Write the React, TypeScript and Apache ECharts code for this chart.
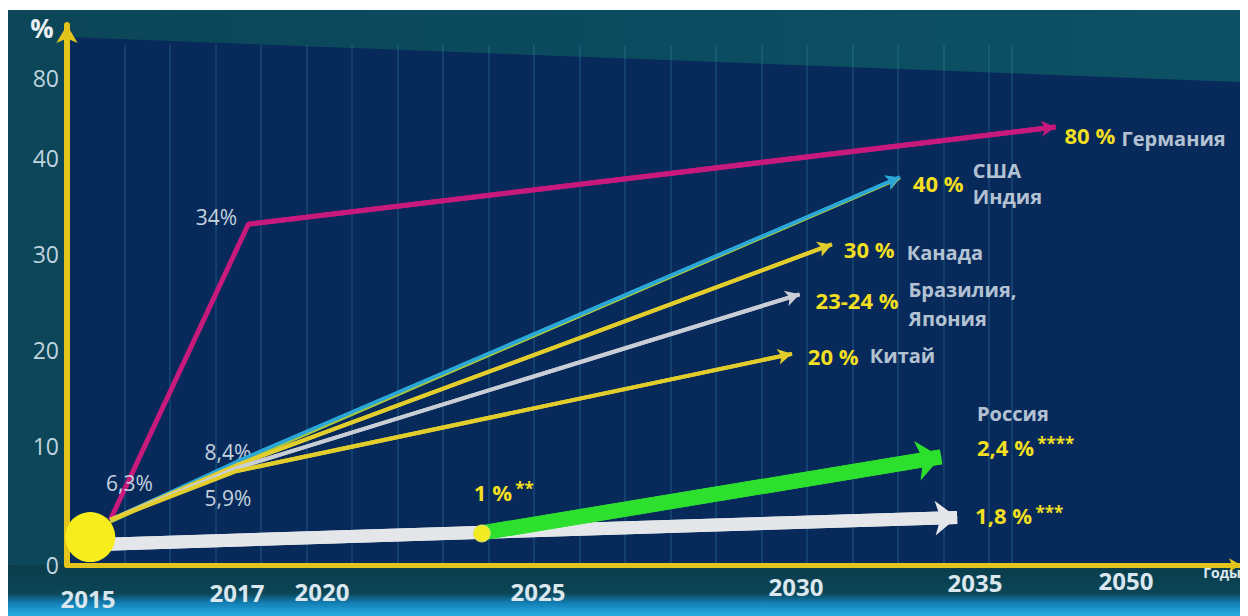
import React, { useEffect, useRef } from "react";
import * as echarts from "echarts";

// ---- axis scales (the infographic uses uneven spacing between ticks) ----
const xTickYears = [2015, 2017, 2020, 2025, 2030, 2035, 2050];
const xTickSpacing = [1.49, 0.85, 2.16, 2.58, 1.79, 1.51];
const yTickValues = [0, 10, 20, 30, 40, 80];
const yTickSpacing = [1.19, 0.96, 0.96, 0.96, 0.8];

// ---- series (years, share %) ----
const germanyYears = [2015.3, 2017.4, 2043.0];
const germanyShare = [3.8, 33.1, 55.5];
const usaYears = [2015.3, 2017, 2032.9];
const usaShare = [3.8, 8.7, 38.0];
const indiaYears = [2015.3, 2017, 2032.9];
const indiaShare = [3.6, 8.5, 37.9];
const canadaYears = [2015.3, 2017, 2031.0];
const canadaShare = [3.8, 8.4, 31.0];
const brazilJapanYears = [2015.3, 2017, 2030.1];
const brazilJapanShare = [3.8, 8.15, 25.8];
const chinaYears = [2015.3, 2017, 2029.92];
const chinaShare = [3.8, 7.9, 19.6];
const russiaBaseYears = [2015.03, 2034.5];
const russiaBaseShare = [1.7, 4.0];
const russiaTargetYears = [2023.7, 2034.05];
const russiaTargetShare = [2.7, 9.08];
const startPoint = [2015.03, 2.35];
const russiaMilestone = [2023.7, 2.65];

// ---- texts ----
const startLabels = ["6,3%", "34%", "8,4%", "5,9%"];
const endValues = ["80 %", "40 %", "30 %", "23-24 %", "20 %"];
const endNames = ["Германия", "США\nИндия", "Канада", "Бразилия,\nЯпония", "Китай"];
const russiaTexts = ["Россия", "2,4 %", "****", "1,8 %", "***", "1 %", "**"];

const FONT = "'Open Sans', 'DejaVu Sans', sans-serif";

function cumulative(gaps: number[]) {
  const c = [0];
  gaps.forEach((g) => c.push(c[c.length - 1] + g));
  return c;
}
const xCum = cumulative(xTickSpacing);
const yCum = cumulative(yTickSpacing);

function warp(v: number, ticks: number[], cum: number[]) {
  let i = 0;
  while (i < ticks.length - 2 && v > ticks[i + 1]) i++;
  const t = (v - ticks[i]) / (ticks[i + 1] - ticks[i]);
  return cum[i] + t * (cum[i + 1] - cum[i]);
}
const wx = (y: number) => warp(y, xTickYears, xCum);
const wy = (v: number) => warp(v, yTickValues, yCum);
const pts = (ys: number[], vs: number[]) => ys.map((y, i) => [wx(y), wy(vs[i])]);

const thinLabel = {
  show: true,
  position: "inside",
  color: "#c3d2df",
  fontSize: 21,
  fontFamily: FONT,
  align: "center",
  verticalAlign: "middle",
};
const valueRich = {
  v: { color: "#f2df1f", fontSize: 22, fontWeight: "bold", fontFamily: FONT },
  s: { color: "#f2df1f", fontSize: 17, fontWeight: "bold", fontFamily: FONT, padding: [0, 0, 6, 0] },
};

function valueLabel(text: string, offset: number[]) {
  return {
    show: true,
    position: "inside",
    align: "left",
    verticalAlign: "middle",
    offset,
    formatter: text,
    rich: valueRich,
  };
}

function trendSeries(
  name: string,
  p: number[][],
  color: string,
  width: number,
  z: number,
  labels: Record<number, any>,
  arrowSize: number[]
) {
  const n = p.length;
  return {
    type: "line",
    name,
    z,
    silent: true,
    showSymbol: true,
    symbol: "circle",
    symbolSize: 1,
    itemStyle: { color },
    lineStyle: { color, width },
    label: { show: false },
    data: p.map((v, i) => (labels[i] ? { value: v, label: labels[i] } : { value: v })),
    markLine: {
      silent: true,
      symbol: ["none", "arrow"],
      symbolSize: arrowSize,
      label: { show: false },
      lineStyle: { color, width, type: "solid", opacity: 1 },
      emphasis: { disabled: true },
      data: [[{ coord: p[n - 2] }, { coord: p[n - 1] }]],
    },
  };
}

export default function App() {
  const ref = useRef<HTMLDivElement>(null);
  useEffect(() => {
    if (!ref.current) return;
    const chart = echarts.init(ref.current, undefined, { renderer: "svg" });

    const germany = pts(germanyYears, germanyShare);
    const usa = pts(usaYears, usaShare);
    const india = pts(indiaYears, indiaShare);
    const canada = pts(canadaYears, canadaShare);
    const brazil = pts(brazilJapanYears, brazilJapanShare);
    const china = pts(chinaYears, chinaShare);
    const rBase = pts(russiaBaseYears, russiaBaseShare);
    const rTarget = pts(russiaTargetYears, russiaTargetShare);

    const xDrop = [18, 12, 11, 11, 6, 2, 0];
    const xRich: Record<string, any> = {};
    xDrop.forEach((d, i) => {
      xRich["t" + i] = {
        fontSize: 24,
        fontWeight: "bold",
        color: "#dbe7ef",
        fontFamily: FONT,
        padding: [d, 0, 0, 0],
      };
    });

    const ends = [germany, usa, canada, brazil, china];
    const nameOffsets = [
      [66, 11],
      [73, 6],
      [75, 8],
      [109, 9.5],
      [78, 2],
    ];
    const nameLines = [20, 26, 20, 29, 20];

    const option: any = {
      animation: false,
      backgroundColor: new echarts.graphic.LinearGradient(0, 0, 1, 0, [
        { offset: 0, color: "#0c4658" },
        { offset: 0.5, color: "#0b4b5f" },
        { offset: 1, color: "#0d5165" },
      ]),
      graphic: {
        elements: [
          {
            type: "polygon",
            z: -100,
            silent: true,
            shape: { points: [[60, 27], [1234, 72], [1234, 555], [60, 555]] },
            style: { fill: "#072a5b" },
          },
          {
            type: "rect",
            z: -100,
            silent: true,
            shape: { x: 0, y: 555, width: 1241, height: 51 },
            style: {
              fill: new echarts.graphic.LinearGradient(0, 0, 0, 1, [
                { offset: 0, color: "#0a3d4c" },
                { offset: 0.55, color: "#0b4556" },
                { offset: 0.75, color: "#1380b6" },
                { offset: 1, color: "#27aee3" },
              ]),
            },
          },
          {
            type: "text",
            z: 10,
            x: 35,
            y: 18,
            style: {
              text: "%",
              fill: "#e8f0f6",
              font: `bold 26px ${FONT}`,
              align: "center",
              verticalAlign: "middle",
            },
          },
          {
            type: "text",
            z: 10,
            x: 1215,
            y: 562,
            style: {
              text: "Годы",
              fill: "#dde8ef",
              font: `bold 14px ${FONT}`,
              align: "center",
              verticalAlign: "middle",
            },
          },
        ],
      },
      grid: [
        { left: 60, right: 7, top: 15, bottom: 51 },
        { left: 72, width: 933, top: 35, bottom: 51 },
      ],
      xAxis: [
        {
          type: "value",
          gridIndex: 0,
          min: -0.21,
          max: 11.53,
          axisLine: {
            show: true,
            onZero: false,
            lineStyle: { color: "#e3c41c", width: 5 },
            symbol: ["none", "arrow"],
            symbolSize: [10, 12],
          },
          axisTick: { show: false },
          splitLine: { show: false },
          axisLabel: {
            customValues: xCum,
            margin: 3,
            formatter: (val: number) => {
              const i = xCum.findIndex((c) => Math.abs(c - val) < 1e-6);
              return i < 0 ? "" : `{t${i}|${xTickYears[i]}}`;
            },
            rich: xRich,
          },
        },
        {
          type: "value",
          gridIndex: 1,
          min: 0,
          max: 20.5,
          interval: 1,
          axisLine: { show: false },
          axisTick: { show: false },
          axisLabel: { show: false },
          splitLine: {
            show: true,
            showMinLine: false,
            lineStyle: { color: "rgba(60,150,180,0.22)", width: 2 },
          },
        },
      ],
      yAxis: [
        {
          type: "value",
          gridIndex: 0,
          min: 0,
          max: 5.4,
          axisLine: {
            show: true,
            onZero: false,
            lineStyle: { color: "#e3c41c", width: 6 },
            symbol: ["none", "arrow"],
            symbolSize: [16, 18],
          },
          axisTick: { show: false },
          splitLine: { show: false },
          axisLabel: {
            customValues: yCum,
            margin: 8,
            color: "#c0d3de",
            fontSize: 23,
            fontFamily: FONT,
            formatter: (val: number) => {
              const i = yCum.findIndex((c) => Math.abs(c - val) < 1e-6);
              return i < 0 ? "" : String(yTickValues[i]);
            },
          },
        },
        { type: "value", gridIndex: 1, show: false, min: 0, max: 1 },
      ],
      series: [
        trendSeries(
          "Германия",
          germany,
          "#c8197d",
          5,
          3,
          {
            0: { ...thinLabel, formatter: startLabels[0], offset: [19, -37] },
            1: { ...thinLabel, formatter: startLabels[1], offset: [-32, -7] },
            2: valueLabel(`{v|${endValues[0]}}`, [9, 8]),
          },
          [12, 14]
        ),
        trendSeries("Индия", india, "#a7c640", 3, 3, {}, [10, 12]),
        trendSeries(
          "США",
          usa,
          "#2aa6d8",
          3.5,
          3,
          { 2: valueLabel(`{v|${endValues[1]}}`, [13, 6]) },
          [12, 14]
        ),
        trendSeries(
          "Канада",
          canada,
          "#e2cd2c",
          4,
          3,
          {
            1: { ...thinLabel, formatter: startLabels[2], offset: [-9, -13] },
            2: valueLabel(`{v|${endValues[2]}}`, [12, 5]),
          },
          [12, 14]
        ),
        trendSeries(
          "Бразилия, Япония",
          brazil,
          "#c9cdd6",
          4,
          3,
          { 2: valueLabel(`{v|${endValues[3]}}`, [16, 6]) },
          [12, 14]
        ),
        trendSeries(
          "Китай",
          china,
          "#e2cd2c",
          4,
          3,
          {
            1: { ...thinLabel, formatter: startLabels[3], offset: [-9, 27] },
            2: valueLabel(`{v|${endValues[4]}}`, [16, 2]),
          },
          [12, 14]
        ),
        trendSeries(
          "Россия (база)",
          rBase,
          "#e4e6ea",
          13,
          4,
          { 1: valueLabel(`{v|${russiaTexts[3]}} {s|${russiaTexts[4]}}`, [18, -2]) },
          [26, 22]
        ),
        trendSeries(
          "Россия (цель)",
          rTarget,
          "#2ee02e",
          15,
          5,
          {
            0: valueLabel(`{v|${russiaTexts[5]}} {s|${russiaTexts[6]}}`, [-8, -41]),
            1: valueLabel(`{v|${russiaTexts[1]}} {s|${russiaTexts[2]}}`, [36, -10]),
          },
          [30, 24]
        ),
        {
          type: "scatter",
          z: 8,
          silent: true,
          symbolSize: 1,
          itemStyle: { color: "rgba(0,0,0,0)" },
          data: [
            ...ends.map((p, i) => ({
              value: p[p.length - 1],
              label: {
                show: true,
                position: "inside",
                align: "left",
                verticalAlign: "middle",
                offset: nameOffsets[i],
                formatter: endNames[i],
                color: "#e4edf4",
                fontSize: 20,
                fontWeight: "bold",
                fontFamily: FONT,
                lineHeight: nameLines[i],
              },
            })),
            {
              value: rTarget[1],
              label: {
                show: true,
                position: "inside",
                align: "left",
                verticalAlign: "middle",
                offset: [36, -43],
                formatter: russiaTexts[0],
                color: "#e4edf4",
                fontSize: 20,
                fontWeight: "bold",
                fontFamily: FONT,
              },
            },
          ],
        },
        {
          type: "scatter",
          z: 9,
          silent: true,
          data: [
            {
              value: [wx(startPoint[0]), wy(startPoint[1])],
              symbolSize: 50,
              itemStyle: { color: "#f7ec1c", opacity: 1 },
            },
            {
              value: [wx(russiaMilestone[0]), wy(russiaMilestone[1])],
              symbolSize: 17,
              itemStyle: { color: "#f3ec25", borderColor: "#d9e07a", borderWidth: 1, opacity: 1 },
            },
          ],
        },
      ],
    };
    chart.setOption(option);
    return () => chart.dispose();
  }, []);
  return <div ref={ref} style={{ width: 1241, height: 606, marginTop: 2, marginLeft: -1 }} />;
}
